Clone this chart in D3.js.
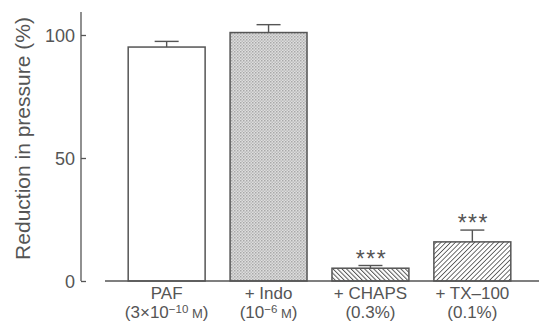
<!DOCTYPE html>
<html>
<head>
<meta charset="utf-8">
<script src="https://cdn.jsdelivr.net/npm/d3@7"></script>
<style>
body { margin: 0; background: #fff; }
text { font-family: "Liberation Sans", Arial, sans-serif; fill: #555; }
</style>
</head>
<body>
<div id="chart"></div>
<script>
var groups = ["PAF", "+ Indo", "+ CHAPS", "+ TX\u2013100"];
var values = [95.1, 101.0, 5.2, 15.9];
var errors = [2.3, 3.2, 1.1, 4.8];
var stars = ["", "", "***", "***"];
var fills = ["white", "url(#dots)", "url(#hatchBack)", "url(#hatchFwd)"];
var yTicks = [0, 50, 100];

var width = 539, height = 323;
var margin = { top: 12, right: 0, bottom: 42, left: 81 };

var svg = d3.select("#chart").append("svg")
    .attr("width", width)
    .attr("height", height);

var defs = svg.append("defs");
var dots = defs.append("pattern").attr("id", "dots")
    .attr("patternUnits", "userSpaceOnUse").attr("width", 3).attr("height", 3);
dots.append("rect").attr("width", 3).attr("height", 3).attr("fill", "#dedede");
dots.append("rect").attr("width", 1.5).attr("height", 1.5).attr("fill", "#a8a8a8");
dots.append("rect").attr("x", 1.5).attr("y", 1.5).attr("width", 1.5).attr("height", 1.5).attr("fill", "#bcbcbc");

var hb = defs.append("pattern").attr("id", "hatchBack")
    .attr("patternUnits", "userSpaceOnUse").attr("width", 3.2).attr("height", 3.2)
    .attr("patternTransform", "rotate(-45)");
hb.append("rect").attr("width", 3.2).attr("height", 3.2).attr("fill", "#fff");
hb.append("line").attr("x1", 0).attr("y1", 0).attr("x2", 0).attr("y2", 3.2)
    .attr("stroke", "#555").attr("stroke-width", 2);

var hf = defs.append("pattern").attr("id", "hatchFwd")
    .attr("patternUnits", "userSpaceOnUse").attr("width", 3.4).attr("height", 3.4)
    .attr("patternTransform", "rotate(45)");
hf.append("rect").attr("width", 3.4).attr("height", 3.4).attr("fill", "#fff");
hf.append("line").attr("x1", 0).attr("y1", 0).attr("x2", 0).attr("y2", 3.4)
    .attr("stroke", "#555").attr("stroke-width", 1.7);

var y = d3.scaleLinear().domain([0, 100]).range([281, 35]);
var x = d3.scaleBand().domain(groups).range([118, 521]).paddingInner(0.245).paddingOuter(0.1);

// y axis
var yAxis = svg.append("g")
    .attr("transform", "translate(" + margin.left + ",0)")
    .call(d3.axisRight(y).tickValues(yTicks).tickSize(5).tickFormat(""));
yAxis.select(".domain").remove();
yAxis.selectAll("line").attr("stroke", "#555").attr("stroke-width", 1.3);
svg.append("line")
    .attr("x1", margin.left).attr("x2", margin.left)
    .attr("y1", margin.top).attr("y2", y(0))
    .attr("stroke", "#555").attr("stroke-width", 1.3);

svg.selectAll(".ylab").data(yTicks).enter().append("text")
    .attr("x", margin.left - 6)
    .attr("y", function (d) { return y(d) + 6.5; })
    .attr("text-anchor", "end")
    .style("font-size", "18px")
    .text(function (d) { return d; });

svg.append("text")
    .attr("transform", "translate(30," + ((12 + 265) / 2) + ") rotate(-90)")
    .attr("text-anchor", "middle")
    .style("font-size", "21px")
    .text("Reduction in pressure (%)");

// bars
svg.selectAll(".bar").data(groups).enter().append("rect")
    .attr("x", function (d) { return x(d); })
    .attr("y", function (d, i) { return y(values[i]); })
    .attr("width", x.bandwidth())
    .attr("height", function (d, i) { return y(0) - y(values[i]); })
    .attr("fill", function (d, i) { return fills[i]; })
    .attr("stroke", "#555").attr("stroke-width", 1.5);

// error bars
var eb = svg.selectAll(".err").data(groups).enter().append("g");
eb.append("line")
    .attr("x1", function (d) { return x(d) + x.bandwidth() / 2; })
    .attr("x2", function (d) { return x(d) + x.bandwidth() / 2; })
    .attr("y1", function (d, i) { return y(values[i]); })
    .attr("y2", function (d, i) { return y(values[i] + errors[i]); })
    .attr("stroke", "#555").attr("stroke-width", 1.4);
eb.append("line")
    .attr("x1", function (d) { return x(d) + x.bandwidth() / 2 - 12; })
    .attr("x2", function (d) { return x(d) + x.bandwidth() / 2 + 12; })
    .attr("y1", function (d, i) { return y(values[i] + errors[i]); })
    .attr("y2", function (d, i) { return y(values[i] + errors[i]); })
    .attr("stroke", "#555").attr("stroke-width", 1.4);

// significance stars
svg.selectAll(".star").data(groups).enter().append("text")
    .attr("x", function (d) { return x(d) + x.bandwidth() / 2 + 1; })
    .attr("y", function (d, i) { return y(values[i] + errors[i]) + 1; })
    .attr("text-anchor", "middle")
    .style("font-size", "23px")
    .style("letter-spacing", "1.5px")
    .text(function (d, i) { return stars[i]; });

// baseline
svg.append("line")
    .attr("x1", 105).attr("x2", width)
    .attr("y1", y(0)).attr("y2", y(0))
    .attr("stroke", "#555").attr("stroke-width", 1.5);

// category labels
var sub1 = [["(3\u00d710", "\u221210", " M"], ["(10", "\u22126", " M"], ["(0.3%)"], ["(0.1%)"]];
var labs = svg.selectAll(".cat").data(groups).enter().append("g")
    .attr("transform", function (d) { return "translate(" + (x(d) + x.bandwidth() / 2) + ",0)"; });
labs.append("text")
    .attr("y", 299).attr("text-anchor", "middle")
    .style("font-size", "17px")
    .text(function (d) { return d; });
var l2 = labs.append("text")
    .attr("y", 318).attr("text-anchor", "middle")
    .style("font-size", "17px");
l2.each(function (d, i) {
    var t = d3.select(this);
    var parts = sub1[i];
    t.append("tspan").text(parts[0]);
    if (parts.length > 1) {
        t.append("tspan").attr("dy", -5).style("font-size", "11.5px").text(parts[1]);
        t.append("tspan").attr("dy", 5).style("font-size", "13px").text(parts[2]);
        t.append("tspan").text(")");
    }
});
</script>
</body>
</html>
